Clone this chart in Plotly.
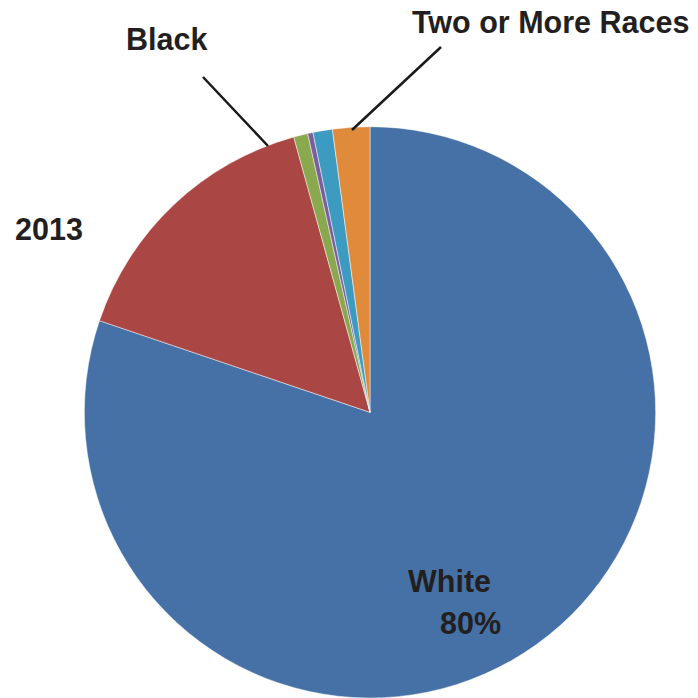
import plotly.graph_objects as go

categories = ["White", "Black", "American Indian", "Native Hawaiian/Pacific Islander", "Asian", "Two or More Races"]
values = [80.2, 15.5, 0.8, 0.3, 1.1, 2.1]
colors = ["#4571A6", "#AA4643", "#8AA84E", "#7B5E9C", "#3D9BC2", "#E08A3C"]

# The page body has an 8px default margin; work in reference pixel coords and convert.
W = 690
OFF = 8

def px(x):
    return (x - OFF) / W

def py(y):
    return 1 - (y - OFF) / W

fig = go.Figure(go.Pie(
    labels=categories,
    values=values,
    sort=False,
    direction="clockwise",
    rotation=0,
    textinfo="none",
    hoverinfo="label+percent",
    marker=dict(colors=colors, line=dict(color="rgba(255,255,255,0.6)", width=0.8)),
    domain=dict(x=[px(370 - 287), px(370 + 287)], y=[0.0, 0.828]),
    showlegend=False,
))

font = dict(family="Liberation Sans, Arial, sans-serif", size=30.5, color="#231F20")

def ann(text, x, y, xanchor="center", yanchor="middle"):
    return dict(text="<b>%s</b>" % text, x=px(x), y=py(y), xref="paper", yref="paper",
                xanchor=xanchor, yanchor=yanchor, showarrow=False, font=font)

fig.update_layout(
    width=W, height=W,
    margin=dict(l=0, r=0, t=0, b=0),
    paper_bgcolor="white",
    plot_bgcolor="white",
    annotations=[
        ann("Black", 166, 39),
        ann("Two or More Races", 550, 22),
        ann("2013", 49, 229),
        ann("White", 449, 581),
        ann("80%", 470, 623),
    ],
    shapes=[
        dict(type="line", xref="paper", yref="paper", x0=px(203), y0=py(77),
             x1=px(268), y1=py(146), line=dict(color="#1a1a1a", width=2.5)),
        dict(type="line", xref="paper", yref="paper", x0=px(441), y0=py(47),
             x1=px(352), y1=py(130), line=dict(color="#1a1a1a", width=2.5)),
    ],
)

fig.write_html("out.html")
